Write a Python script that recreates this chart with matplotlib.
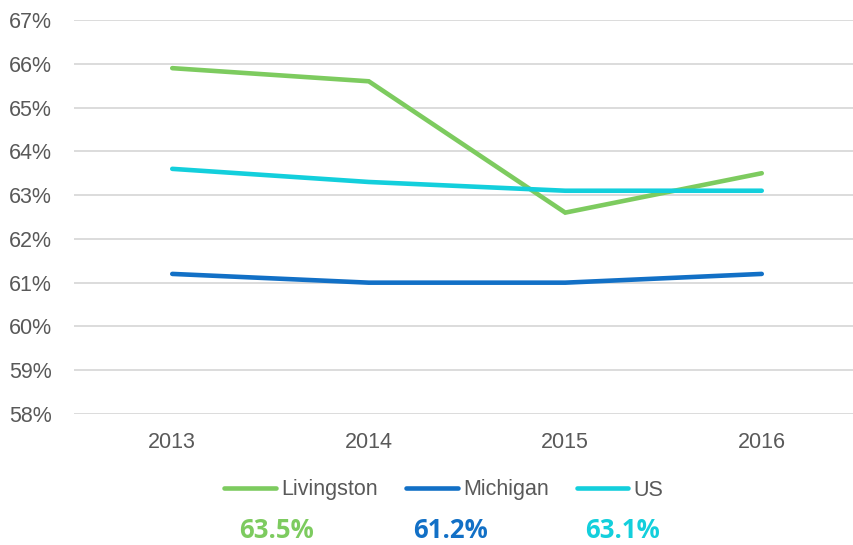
import matplotlib.pyplot as plt
from matplotlib.ticker import FuncFormatter

years = ["2013", "2014", "2015", "2016"]
livingston = [65.9, 65.6, 62.6, 63.5]
michigan = [61.2, 61.0, 61.0, 61.2]
us = [63.6, 63.3, 63.1, 63.1]

names = ["Livingston", "Michigan", "US"]
colors = ["#7dcb5f", "#1270c6", "#13cfdc"]
grey = "#595959"

plt.rcParams["font.family"] = ["Liberation Sans", "DejaVu Sans"]

fig = plt.figure(figsize=(8.54, 5.45), dpi=100)
# plot area runs slightly past the right edge, as in the original export
ax = fig.add_axes([74 / 854, 1 - 414 / 545, (860 - 74) / 854, (414 - 20) / 545])

x = range(len(years))
for name, vals, c in zip(names, [livingston, michigan, us], colors):
    ax.plot(x, vals, color=c, lw=3.3, solid_capstyle="round",
            solid_joinstyle="miter", label=name)

ax.set_xlim(-0.5, 3.5)
ax.set_ylim(58, 67)
ax.set_yticks(range(58, 68))
ax.yaxis.set_major_formatter(FuncFormatter(lambda v, p: f"{v:.0f}%"))
ax.set_xticks(list(x))
ax.set_xticklabels(years)
ax.grid(axis="y", color="#d9d9d9", lw=1.3)
ax.set_axisbelow(True)
for s in ax.spines.values():
    s.set_visible(False)
ax.tick_params(length=0, labelsize=15.5, colors=grey)
ax.tick_params(axis="x", pad=13)
ax.tick_params(axis="y", pad=16)

leg = fig.legend(loc="center", bbox_to_anchor=(444 / 854, 1 - 490 / 545), ncol=3,
                 frameon=False, fontsize=15.5, handlelength=2.4,
                 handletextpad=0.25, columnspacing=1.3)
for t in leg.get_texts():
    t.set_color(grey)

last = [livingston[-1], michigan[-1], us[-1]]
centers = [277, 451, 623]
for v, c, cx in zip(last, colors, centers):
    fig.text(cx / 854, 1 - 530 / 545, f"{v:.1f}%", color=c, fontsize=18.5,
             fontweight="bold", ha="center", va="center",
             family=["Open Sans", "DejaVu Sans"])

fig.savefig("out.png", dpi=100)
